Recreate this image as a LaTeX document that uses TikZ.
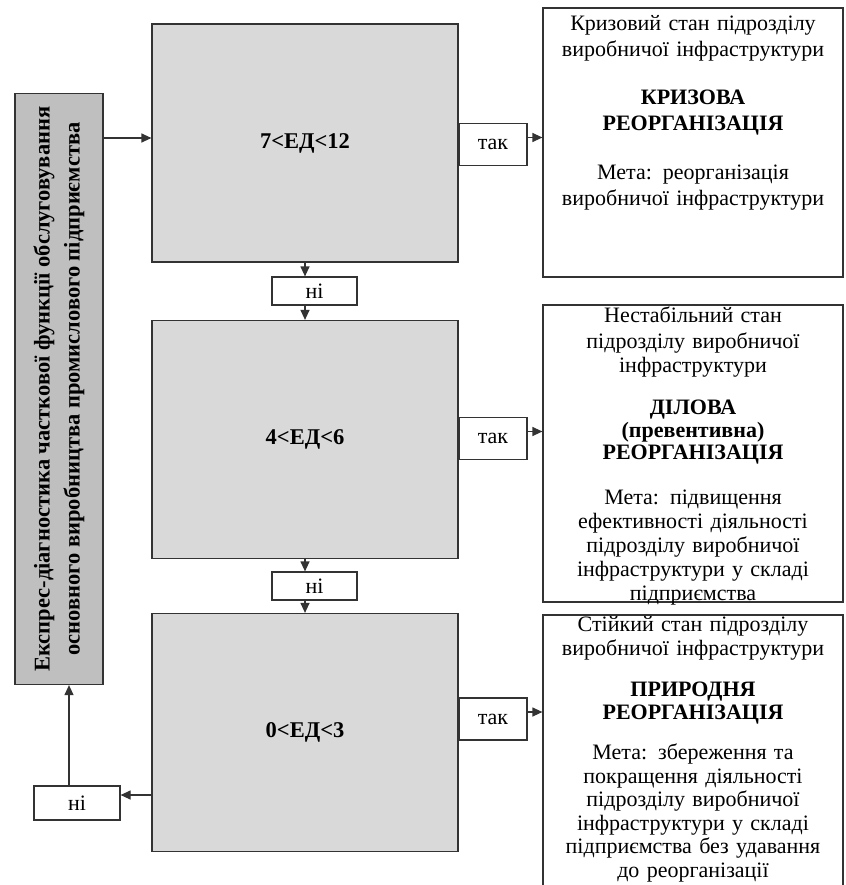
\documentclass[tikz,border=0pt]{standalone}
\usepackage{fontspec}
\setmainfont{Liberation Serif}
\usetikzlibrary{arrows.meta}

\begin{document}
\begin{tikzpicture}[x=1pt,y=-1pt,line width=1.2pt,
  every node/.style={font=\fontsize{22}{24.5}\selectfont},
  diagbox/.style={draw=black!80,fill=black!15,minimum width=306pt,minimum height=238pt,
    font=\fontsize{22.5}{24.5}\selectfont\bfseries},
  tagbox/.style={draw=black!80,fill=white,minimum width=68pt,minimum height=42pt,inner sep=0pt},
  resbox/.style={draw=black!80,minimum width=300pt,minimum height=#1,inner sep=0pt},
  restext/.style={anchor=north,align=center,text width=298pt,inner sep=0pt},
  arr/.style={draw=black!80,-{Triangle[length=10pt,width=9pt]}}]
  \useasboundingbox (0,0) rectangle (845,885);
  % left column
  \node[draw=black!80,fill=black!25,minimum width=88pt,minimum height=591pt] (expr) at (59,389) {};
  \node[rotate=90,align=center,font=\fontsize{22.5}{30}\selectfont\bfseries] (exprtxt) at (expr)
    {Експрес-діагностика часткової функції обслуговування\\основного виробництва промислового підприємства};
  % checks
  \node[diagbox] (ed1) at (305,143) {7<ЕД<12};
  \node[diagbox] (ed2) at (305,439.5) {4<ЕД<6};
  \node[diagbox] (ed3) at (305,732.5) {0<ЕД<3};
  \node[tagbox] (tak1) at (493,144.5) {так};
  \node[tagbox] (tak2) at (493,438.5) {так};
  \node[tagbox] (tak3) at (493,719) {так};
  \node[tagbox,minimum width=85pt,minimum height=28pt] (ni1) at (314.5,291) {ні};
  \node[tagbox,minimum width=85pt,minimum height=28pt] (ni2) at (314.5,586) {ні};
  \node[tagbox,minimum width=86pt,minimum height=34pt] (ni3) at (77,803) {ні};
  % results
  \node[resbox=269pt] (res1) at (693,142.5) {};
  \node[resbox=297pt] (res2) at (693,453.5) {};
  \node[resbox=280pt] (res3) at (693,755) {};
  \node[restext] (res1t) at ([yshift=-7pt]res1.north)
    {Кризовий стан підрозділу\\[1.5pt]виробничої інфраструктури\\[24pt]
     \textbf{КРИЗОВА}\\[1.5pt]\textbf{РЕОРГАНІЗАЦІЯ}\\[24pt]
     Мета: реорганізація\\[1.5pt]виробничої інфраструктури};
  \node[restext] (res2t) at ([yshift=-2pt]res2.north)
    {Нестабільний стан\\[1pt]підрозділу виробничої\\інфраструктури\\[17pt]
     \textbf{ДІЛОВА}\\[-1.5pt]\textbf{(превентивна)}\\[-2pt]\textbf{РЕОРГАНІЗАЦІЯ}\\[20pt]
     Мета: підвищення\\[-0.5pt]ефективності діяльності\\[-0.5pt]підрозділу виробничої\\[-0.5pt]інфраструктури у складі\\[-0.5pt]підприємства};
  \node[restext] (res3t) at ([yshift=-1pt]res3.north)
    {Стійкий стан підрозділу\\виробничої інфраструктури\\[16pt]
     \textbf{ПРИРОДНЯ}\\[-1.5pt]\textbf{РЕОРГАНІЗАЦІЯ}\\[16pt]
     Мета: збереження та\\[-1pt]покращення діяльності\\[-1pt]підрозділу виробничої\\[-1pt]інфраструктури у складі\\[-1pt]підприємства без удавання\\[-1pt]до реорганізації};
  % connectors
  \draw[arr] ([yshift=5pt]ed1.west -| expr.east) -- ([yshift=5pt]ed1.west);
  \draw[arr] ([yshift=7pt]tak1.east) -- ([yshift=7pt]tak1.east -| res1.west);
  \draw[arr] ([yshift=7pt]tak2.east) -- ([yshift=7pt]tak2.east -| res2.west);
  \draw[arr] ([yshift=7pt]tak3.east) -- ([yshift=7pt]tak3.east -| res3.west);
  \draw[arr] (ed1.south) -- (ed1.south |- ni1.north);
  \draw[arr] (ni1.south -| ed2.north) -- (ed2.north);
  \draw[arr] (ed2.south) -- (ed2.south |- ni2.north);
  \draw[arr] (ni2.south -| ed3.north) -- (ed3.north);
  \draw[arr] ([yshift=8pt]ni3.east -| ed3.west) -- ([yshift=8pt]ni3.east);
  \draw[arr] ([xshift=-8pt]ni3.north) -- ([xshift=-8pt]ni3.north |- expr.south);
\end{tikzpicture}
\end{document}
